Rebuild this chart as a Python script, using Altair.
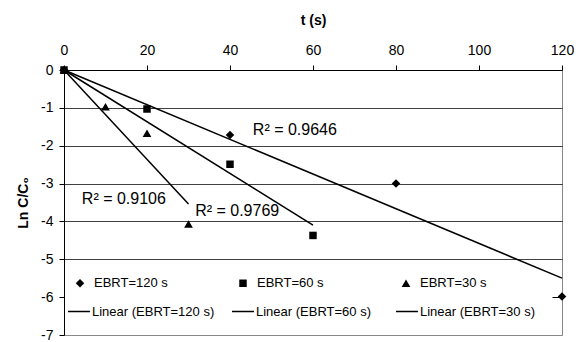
import altair as alt
import pandas as pd
import numpy as np

# ---- data ----
series_names = ["EBRT=120 s", "EBRT=60 s", "EBRT=30 s"]
t_120 = [0, 40, 80, 120]
lnc_120 = [0, -1.72, -3.0, -5.98]
t_60 = [0, 20, 40, 60]
lnc_60 = [0, -1.03, -2.49, -4.37]
t_30 = [0, 10, 20, 30]
lnc_30 = [0, -0.97, -1.67, -4.07]
r2_values = ["0.9646", "0.9769", "0.9106"]
# annotation anchors (data units) for the R² labels
r2_t = [45.5, 31.6, 4.3]
r2_y = [-1.58, -3.72, -3.40]

x_ticks = [0, 20, 40, 60, 80, 100, 120]
y_ticks = [-7, -6, -5, -4, -3, -2, -1, 0]

FONT = "Liberation Sans"

ts = [t_120, t_60, t_30]
ys = [lnc_120, lnc_60, lnc_30]
line_names = ["Linear (" + s + ")" for s in series_names]

pts = pd.DataFrame(
    [{"series": s, "t": t, "y": y} for s, tt, yy in zip(series_names, ts, ys) for t, y in zip(tt, yy)]
)

# Excel linear trendlines with intercept fixed at 0
line_rows = []
for s, ln, tt, yy in zip(series_names, line_names, ts, ys):
    tt_a, yy_a = np.array(tt, float), np.array(yy, float)
    slope = (tt_a * yy_a).sum() / (tt_a ** 2).sum()
    for t in (0, tt_a.max()):
        line_rows.append({"lname": ln, "t": float(t), "y": float(slope * t)})
lines = pd.DataFrame(line_rows)

labels = pd.DataFrame({
    "t": r2_t, "y": r2_y,
    "text": ["R\u00b2 = " + v for v in r2_values],
})

point_shapes = ["diamond", "square", "triangle-up"]
point_sizes = [72, 56, 76]

x_scale = alt.Scale(domain=[0, 120], nice=False, zero=False)
y_scale = alt.Scale(domain=[-7, 0], nice=False, zero=False)

x_axis = alt.Axis(
    orient="top", values=x_ticks, grid=False, title="t (s)",
    labelFont=FONT, labelFontSize=14, labelColor="black", labelPadding=8,
    labelFlush=False, labelOverlap=False,
    tickColor="black", tickSize=5, domainColor="black",
    titleFont=FONT, titleFontSize=14, titleFontWeight="bold", titleColor="black",
    titlePadding=16,
)
y_axis = alt.Axis(
    values=y_ticks, grid=True, title="Ln C/C\u2080",
    labelExpr="'' + datum.value",
    gridColor={"condition": {"test": "datum.value === -7", "value": "#888888"}, "value": "black"},
    gridDash={"condition": {"test": "datum.value === -6", "value": [0, 488, 10]}, "value": [1, 0]},
    gridWidth=1,
    labelFont=FONT, labelFontSize=14, labelColor="black", labelPadding=6,
    labelFlush=False, labelOverlap=False,
    tickColor="black", tickSize=5, domainColor="black",
    titleFont=FONT, titleFontSize=14, titleFontWeight="bold", titleColor="black",
    titlePadding=10,
)

common_legend = dict(
    title=None, orient="none", direction="horizontal", columns=3, gridAlign="all",
    labelFont=FONT, labelFontSize=13, labelColor="black", padding=0,
)
legend_pts = alt.Legend(
    legendX=9.5, legendY=206.5, columnPadding=68, labelOffset=7.5,
    symbolFillColor="black", symbolStrokeColor="black", symbolStrokeWidth=0,
    **common_legend,
)
legend_lines = alt.Legend(
    legendX=3, legendY=229.5, columnPadding=14, labelOffset=1,
    symbolType="stroke", symbolSize=484, symbolStrokeWidth=1.5, symbolStrokeColor="black",
    **common_legend,
)

X = alt.X("t:Q", scale=x_scale, axis=x_axis)
Y = alt.Y("y:Q", scale=y_scale, axis=y_axis)

line_layer = alt.Chart(lines).mark_line(strokeWidth=1.5).encode(
    x=X, y=Y,
    color=alt.Color("lname:N", scale=alt.Scale(domain=line_names, range=["black"] * 3), legend=legend_lines),
)

point_layer = alt.Chart(pts).mark_point(filled=True, color="black", opacity=1).encode(
    x=X, y=Y,
    shape=alt.Shape("series:N", scale=alt.Scale(domain=series_names, range=point_shapes), legend=legend_pts),
    size=alt.Size("series:N", scale=alt.Scale(type="ordinal", domain=series_names, range=point_sizes),
                  legend=legend_pts),
)

text_layer = alt.Chart(labels).mark_text(
    align="left", baseline="middle", font=FONT, fontSize=16, color="black"
).encode(
    x=X, y=Y,
    text="text:N",
)

chart = alt.layer(line_layer, point_layer, text_layer).properties(
    width=498, height=265,
    autosize=alt.AutoSizeParams(type="none"),
    padding={"left": 64, "top": 70, "right": 26, "bottom": 7},
    background="white",
).resolve_legend(color="independent", shape="independent", size="independent").configure_view(
    stroke="#888888", strokeWidth=1
).configure_axisY(labelOverlap=False)

chart.save("out.html", embed_options={"renderer": "svg", "actions": False})
